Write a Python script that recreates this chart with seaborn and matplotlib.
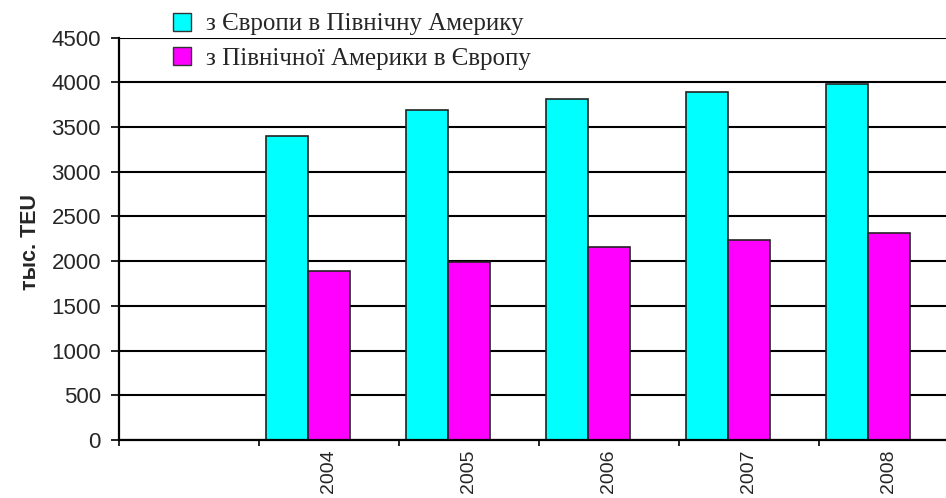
#!/usr/bin/env python3

import pandas as pd
import matplotlib.pyplot as plt
import seaborn as sns
from matplotlib.patches import Patch
from matplotlib.ticker import FixedLocator

years = ["2004", "2005", "2006", "2007", "2008"]
eu_to_na = [3400, 3690, 3810, 3890, 3980]
na_to_eu = [1890, 1990, 2160, 2240, 2320]
series = ["з Європи в Північну Америку", "з Північної Америки в Європу"]
colors = ["#00FFFF", "#FF00FF"]
yticks = list(range(0, 4501, 500))

sns.set_style("white")
plt.rcParams["font.family"] = ["Liberation Sans", "DejaVu Sans"]

df = pd.DataFrame({
    "year": years * 2,
    "series": [series[0]] * len(years) + [series[1]] * len(years),
    "value": eu_to_na + na_to_eu,
})

order = [""] + years
# third (empty) series keeps the Excel-like slot layout
hue_order = series + ["_empty"]
palette = dict(zip(hue_order, colors + ["white"]))

fig = plt.figure(figsize=(9.46, 4.98), dpi=100)
ax = fig.add_axes([119 / 946, 58 / 498, 840 / 946, 402.3 / 498])

sns.barplot(df, x="year", y="value", hue="series", order=order,
            hue_order=hue_order, palette=palette, width=0.9, saturation=1,
            edgecolor="#222222", linewidth=1.2, legend=False, ax=ax)

ax.set_xlim(-0.5, 5.5)
ax.set_ylim(0, 4500)
ax.set_yticks(yticks)
ax.set_axisbelow(True)
ax.yaxis.grid(True, color="black", linewidth=1.5)
ax.xaxis.grid(False)

for s in ["top", "right"]:
    ax.spines[s].set_visible(False)
for s in ["left", "bottom"]:
    ax.spines[s].set_color("black")
    ax.spines[s].set_linewidth(1.6)

ax.set_xticks(range(len(order)))
ax.set_xticklabels(order, rotation=90, fontsize=14)
ax.xaxis.set_minor_locator(FixedLocator([i - 0.5 for i in range(len(order) + 1)]))
ax.tick_params(axis="x", which="major", length=0, pad=7)
ax.tick_params(axis="x", which="minor", bottom=True, length=4, width=1.2, color="black")
ax.tick_params(axis="y", left=True, length=6, width=1.2, color="black", pad=7,
               labelsize=16)
ax.set_xlabel("")
ax.set_ylabel("")

fig.text(30 / 946, 1 - 242 / 498, "тыс. TEU", rotation=90, ha="center",
         va="center", fontsize=15.5, fontweight="bold")

handles = [Patch(facecolor=c, edgecolor="#333333", linewidth=1.0) for c in colors]
fig.legend(handles, series, loc="upper left", bbox_to_anchor=(150 / 946, 1.02),
           frameon=False, prop={"family": ["Liberation Serif", "DejaVu Serif"], "size": 18},
           handlelength=0.75, handleheight=0.75, handletextpad=0.6, labelspacing=0.45)

fig.savefig("out.png", dpi=100)
